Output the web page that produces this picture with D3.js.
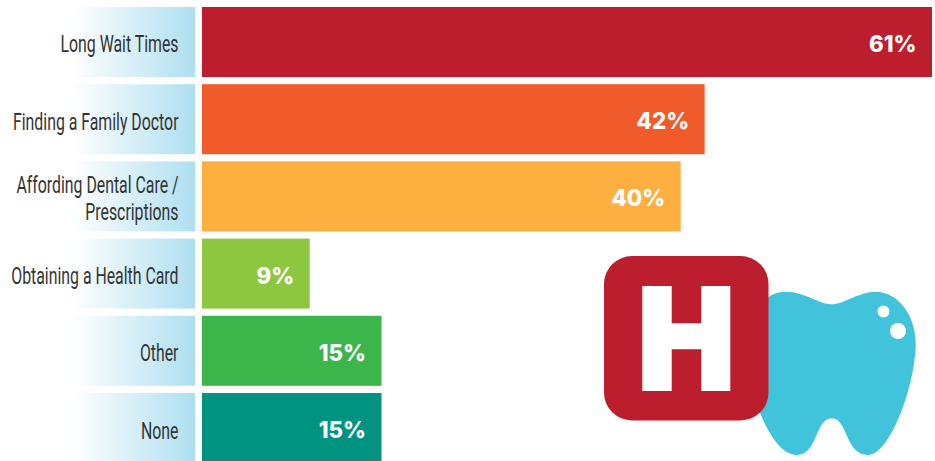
<!DOCTYPE html>
<html><head><meta charset="utf-8">
<script src="https://cdn.jsdelivr.net/npm/d3@7"></script>
<style>html,body{margin:0;padding:0;background:#fff;overflow:hidden}svg{display:block}</style>
</head><body>
<svg id="c" width="935" height="461"></svg>
<script>
const categories = ["Long Wait Times","Finding a Family Doctor","Affording Dental Care /|Prescriptions","Obtaining a Health Card","Other","None"];
const values = [61,42,40,9,15,15];
const colors = ["#bd1e2d","#f15a29","#fdb040","#8dc63f","#3cb54a","#009480"];

const svg = d3.select("#c");
const x = d3.scaleLinear().domain([0,61]).range([202,932]);
const y = d3.scaleBand().domain(categories).range([7,463]).paddingInner(0.0933).paddingOuter(0);

const grad = svg.append("defs").append("linearGradient").attr("id","lg");
grad.append("stop").attr("offset","0").attr("stop-color","#aedff0").attr("stop-opacity",0);
grad.append("stop").attr("offset","1").attr("stop-color","#aedff0");

svg.selectAll("rect.lab").data(categories).join("rect").attr("class","lab")
  .attr("x",72).attr("width",123).attr("y",d=>y(d)).attr("height",y.bandwidth()).attr("fill","url(#lg)");

svg.selectAll("rect.bar").data(categories).join("rect").attr("class","bar")
  .attr("x",x(0)).attr("y",d=>y(d)).attr("height",y.bandwidth())
  .attr("width",(d,i)=>x(values[i])-x(0)).attr("fill",(d,i)=>colors[i]);

// labels (condensed via horizontal scale)
svg.selectAll("g.l").data(categories).join("g").attr("class","l").each(function(d){
  const lines = d.split("|");
  const g = d3.select(this);
  const cy = y(d)+y.bandwidth()/2;
  lines.forEach((t,k)=>{
    const by = cy+(k-(lines.length-1)/2)*27+10.5;
    g.append("text").attr("transform",`translate(178.5,${by}) scale(0.66,1)`)
     .attr("text-anchor","end").attr("fill","#333")
     .style("font-family","Roboto,sans-serif")
     .style("font-size","24px").text(t);
  });
});

svg.selectAll("text.v").data(categories).join("text")
  .attr("class","v")
  .attr("transform",(d,i)=>`translate(${x(values[i])-15.5},${y(d)+y.bandwidth()/2+10}) scale(0.97,1)`)
  .attr("text-anchor","end").attr("fill","#fff")
  .style("font-family","Inter,sans-serif").style("font-weight",800).style("font-size","23px")
  .text((d,i)=>values[i]+"%");

// icon: tooth + hospital sign
const icon = svg.append("g");
icon.append("path").attr("fill","#41c3dc")
 .attr("d","M765 300C772 293 780 291.7 787 291.7C803 291.7 820 304.3 831.7 304.3C843 304.3 860 291.7 875 291.7C900 291.7 915.7 318 915.7 343C915.7 385 890 455 868 455C845 455 848 418.3 831.7 418.3C815 418.3 818 455 796.7 455C780 455 766 430 757 405L750 300Z");
icon.append("circle").attr("cx",883.5).attr("cy",311.5).attr("r",6).attr("fill","#fff");
icon.append("circle").attr("cx",898).attr("cy",331).attr("r",8).attr("fill","#fff");
icon.append("rect").attr("x",604).attr("y",256).attr("width",164.5).attr("height",164.5).attr("rx",28).attr("fill","#bd1e2d");
icon.append("path").attr("fill","#fff")
 .attr("d","M642.3 286H671.7V323.3H701.3V286H730.3V391H701.3V349.3H671.7V391H642.3Z");
</script>
</body></html>
